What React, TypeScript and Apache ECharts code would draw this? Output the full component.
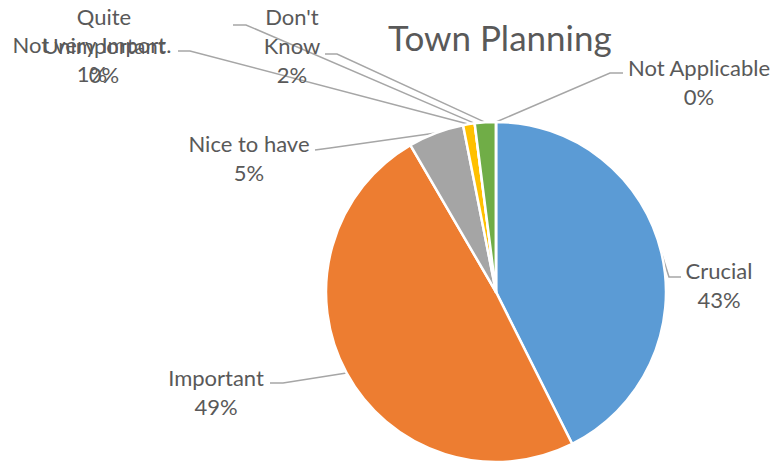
import React, { useEffect, useRef } from "react";
import * as echarts from "echarts";

const categories = [
  "Crucial",
  "Important",
  "Nice to have",
  "Not very Import.",
  "Quite\nUnimportant",
  "Don't\nKnow",
  "Not Applicable",
];
const values = [42.6, 49.0, 5.3, 1.1, 0, 2.0, 0];
const colors = ["#5B9BD5", "#ED7D31", "#A5A5A5", "#FFC000", "#4472C4", "#70AD47", "#255E91"];

// label placement (layout only): text centre and leader-line elbow/end
const labelPlaces = [
  { x: 719, y: 285, elbow: [669, 277], end: [681, 277] },
  { x: 216, y: 392, elbow: [283, 383], end: [270, 383] },
  { x: 249, y: 158, elbow: [330, 148], end: [315, 150] },
  { x: 92, y: 59, elbow: [190, 51], end: [178, 51] },
  { x: 104, y: 45, elbow: [246, 25], end: [233, 25] },
  { x: 292, y: 45, elbow: [337, 54], end: [325, 54] },
  { x: 699, y: 82, elbow: [610, 73], end: [623, 73] },
];

export default function App() {
  const ref = useRef<HTMLDivElement>(null);
  useEffect(() => {
    document.body.style.margin = "0";
    const chart = echarts.init(ref.current!, undefined, { renderer: "svg" });
    chart.setOption({
      animation: false,
      backgroundColor: "#ffffff",
      title: {
        text: "Town Planning",
        left: 388,
        top: 19,
        textStyle: { fontFamily: "Lato", fontSize: 35, fontWeight: "normal", color: "#595959" },
        padding: 0,
      },
      series: [
        {
          type: "pie",
          center: [496, 292],
          radius: 170,
          startAngle: 90,
          clockwise: true,
          avoidLabelOverlap: false,
          itemStyle: { borderColor: "#ffffff", borderWidth: 2.5 },
          label: {
            show: true,
            formatter: (p: any) => `${p.name}\n${Math.round(p.percent)}%`,
            fontFamily: "Lato",
            fontSize: 22,
            lineHeight: 29,
            color: "#595959",
            align: "center",
          },
          labelLine: {
            show: true,
            length: 10,
            length2: 10,
            lineStyle: { color: "#A6A6A6", width: 1.5 },
          },
          labelLayout: (params: any) => {
            const place = labelPlaces[params.dataIndex];
            const start =
              params.labelLinePoints && params.labelLinePoints[0]
                ? params.labelLinePoints[0]
                : place.elbow;
            return {
              x: place.x,
              y: place.y,
              align: "center",
              verticalAlign: "middle",
              labelLinePoints: [start, place.elbow, place.end],
            };
          },
          data: categories.map((c, i) => ({
            name: c,
            value: values[i],
            itemStyle: { color: colors[i] },
          })),
        },
      ],
    });
    return () => chart.dispose();
  }, []);
  return <div ref={ref} style={{ width: 772, height: 463 }} />;
}
